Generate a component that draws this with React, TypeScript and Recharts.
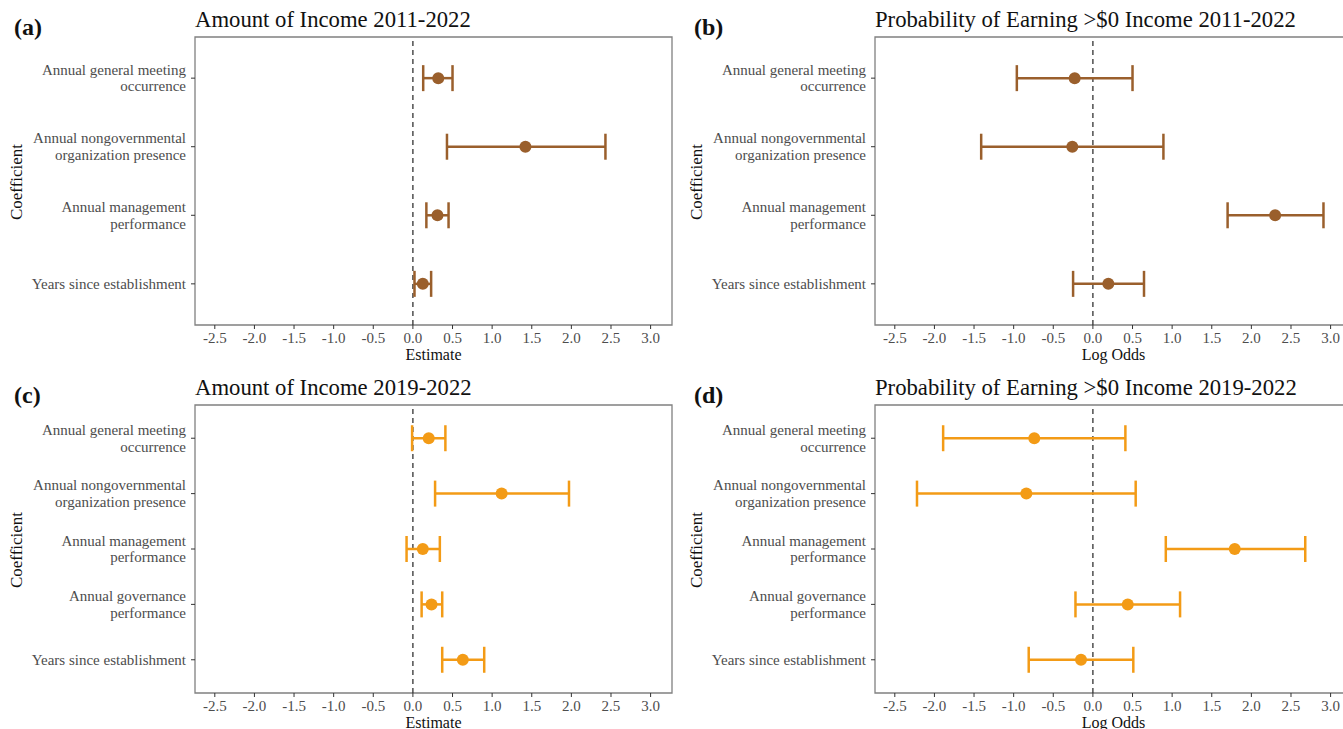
import React from "react";
import { ScatterChart, Scatter, ErrorBar, XAxis, YAxis, ReferenceLine, ReferenceArea } from "recharts";

// coefficient names (top to bottom)
const coefs4 = [
  "Annual general meeting\noccurrence",
  "Annual nongovernmental\norganization presence",
  "Annual management\nperformance",
  "Years since establishment",
];
const coefs5 = [
  "Annual general meeting\noccurrence",
  "Annual nongovernmental\norganization presence",
  "Annual management\nperformance",
  "Annual governance\nperformance",
  "Years since establishment",
];

const xTicks = [-2.5, -2.0, -1.5, -1.0, -0.5, 0.0, 0.5, 1.0, 1.5, 2.0, 2.5, 3.0];

// (a) amount of income 2011-2022
const amount11Est = [0.32, 1.42, 0.31, 0.125];
const amount11Lo = [0.13, 0.43, 0.17, 0.02];
const amount11Hi = [0.5, 2.43, 0.45, 0.23];

// (b) probability of >$0 income 2011-2022
const prob11Est = [-0.23, -0.26, 2.3, 0.195];
const prob11Lo = [-0.96, -1.41, 1.7, -0.25];
const prob11Hi = [0.5, 0.89, 2.91, 0.645];

// (c) amount of income 2019-2022
const amount19Est = [0.2, 1.12, 0.125, 0.235, 0.63];
const amount19Lo = [-0.01, 0.28, -0.08, 0.11, 0.37];
const amount19Hi = [0.41, 1.97, 0.34, 0.37, 0.9];

// (d) probability of >$0 income 2019-2022
const prob19Est = [-0.74, -0.84, 1.79, 0.44, -0.15];
const prob19Lo = [-1.89, -2.22, 0.92, -0.22, -0.81];
const prob19Hi = [0.41, 0.54, 2.68, 1.1, 0.51];

const BROWN = "#9a5f2c";
const ORANGE = "#f39b16";
const SERIF = "'Liberation Serif', 'Times New Roman', Times, serif";
const X_MIN = -2.75;
const X_MAX = 3.27;

type PanelProps = {
  left: number;
  top: number;
  tag: string;
  title: string;
  xLabel: string;
  coefs: string[];
  est: number[];
  lo: number[];
  hi: number[];
  color: string;
};

const CoefTick = (props: any) => {
  const { x, y, payload, coefs } = props;
  const lines: string[] = (coefs[payload.value] || "").split("\n");
  const lh = 16.6;
  const start = -((lines.length - 1) * lh) / 2;
  return (
    <text x={x} y={y} textAnchor="end" fill="#4d4d4d" style={{ fontSize: 15, fontFamily: SERIF }}>
      {lines.map((l, i) => (
        <tspan key={i} x={x} dy={i === 0 ? start + 5 : lh}>
          {l}
        </tspan>
      ))}
    </text>
  );
};

const ValueTick = (props: any) => {
  const { x, y, payload } = props;
  return (
    <text x={x} y={y + 12} textAnchor="middle" fill="#4d4d4d" style={{ fontSize: 15, fontFamily: SERIF }}>
      {Number(payload.value).toFixed(1)}
    </text>
  );
};

const Panel = ({ left, top, tag, title, xLabel, coefs, est, lo, hi, color }: PanelProps) => {
  const rows = coefs.map((c, i) => ({
    pos: i,
    est: est[i],
    err: [est[i] - lo[i], hi[i] - est[i]],
  }));
  const n = coefs.length;
  return (
    <div style={{ position: "absolute", left, top, width: 680, height: 368 }}>
      <div style={{ position: "absolute", left: 14, top: 13, fontFamily: SERIF, fontWeight: "bold", fontSize: 24, lineHeight: "28px", color: "#111" }}>
        {tag}
      </div>
      <div style={{ position: "absolute", left: 195, top: 7, fontFamily: SERIF, fontSize: 22.7, lineHeight: "26px", color: "#111", whiteSpace: "nowrap" }}>
        {title}
      </div>
      <div
        style={{
          position: "absolute",
          left: 17,
          top: 182,
          transform: "translate(-50%, -50%) rotate(-90deg)",
          fontFamily: SERIF,
          fontSize: 17,
          color: "#111",
          whiteSpace: "nowrap",
        }}
      >
        Coefficient
      </div>
      <div
        style={{
          position: "absolute",
          left: 195,
          width: 477,
          top: 346,
          textAlign: "center",
          fontFamily: SERIF,
          fontSize: 16,
          lineHeight: "18px",
          color: "#111",
        }}
      >
        {xLabel}
      </div>
      <ScatterChart width={680} height={365} margin={{ top: 37, right: 8, bottom: 16, left: 5 }}>
        <XAxis
          type="number"
          dataKey="est"
          domain={[X_MIN, X_MAX]}
          allowDataOverflow
          ticks={xTicks}
          interval={0}
          tick={<ValueTick />}
          tickLine={{ stroke: "#333" }}
          tickSize={4}
          axisLine={false}
          height={24}
        />
        <YAxis
          type="number"
          dataKey="pos"
          domain={[-0.6, n - 0.4]}
          reversed
          ticks={coefs.map((_, i) => i)}
          interval={0}
          width={190}
          tickSize={4}
          tickMargin={5}
          tickLine={{ stroke: "#333" }}
          axisLine={false}
          tick={<CoefTick coefs={coefs} />}
        />
        <ReferenceArea x1={X_MIN} x2={X_MAX} y1={-0.6} y2={n - 0.4} fill="none" fillOpacity={0} stroke="#808080" strokeWidth={1.3} />
        <ReferenceLine x={0} stroke="#333" strokeDasharray="5 4" strokeWidth={1.3} />
        <Scatter
          data={rows}
          fill={color}
          isAnimationActive={false}
          shape={(p: any) => <circle cx={p.cx} cy={p.cy} r={6} fill={color} />}
        >
          <ErrorBar dataKey="err" direction="x" width={13} stroke={color} strokeWidth={2.5} />
        </Scatter>
      </ScatterChart>
    </div>
  );
};

export default function App() {
  return (
    <div style={{ position: "absolute", left: 0, top: 0, width: 1343, height: 729, overflow: "hidden", background: "#fff" }}>
      <Panel left={0} top={0} tag="(a)" title="Amount of Income 2011-2022" xLabel="Estimate" coefs={coefs4} est={amount11Est} lo={amount11Lo} hi={amount11Hi} color={BROWN} />
      <Panel left={680} top={0} tag="(b)" title="Probability of Earning >$0 Income 2011-2022" xLabel="Log Odds" coefs={coefs4} est={prob11Est} lo={prob11Lo} hi={prob11Hi} color={BROWN} />
      <Panel left={0} top={368} tag="(c)" title="Amount of Income 2019-2022" xLabel="Estimate" coefs={coefs5} est={amount19Est} lo={amount19Lo} hi={amount19Hi} color={ORANGE} />
      <Panel left={680} top={368} tag="(d)" title="Probability of Earning >$0 Income 2019-2022" xLabel="Log Odds" coefs={coefs5} est={prob19Est} lo={prob19Lo} hi={prob19Hi} color={ORANGE} />
    </div>
  );
}
